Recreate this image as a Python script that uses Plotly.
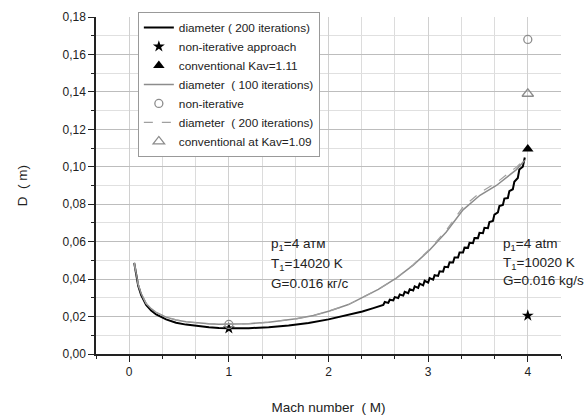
import plotly.graph_objects as go

# ---- data ----
black_m = [0.05, 0.07, 0.09, 0.12, 0.17, 0.22, 0.27, 0.37, 0.47, 0.57, 0.67, 0.80, 0.90, 1.0, 1.2, 1.4, 1.6, 1.8, 2.0, 2.2, 2.34, 2.45, 2.50,
           2.55, 2.565, 2.60, 2.615, 2.65, 2.665, 2.70, 2.715, 2.75, 2.765, 2.80, 2.815, 2.85, 2.865, 2.90, 2.915, 2.95, 2.965,
           3.00, 3.015, 3.05, 3.065, 3.10, 3.115, 3.15, 3.165, 3.20, 3.215, 3.25, 3.265, 3.30, 3.315, 3.35, 3.365, 3.40, 3.415,
           3.45, 3.465, 3.50, 3.515, 3.55, 3.565, 3.60, 3.615, 3.65, 3.665, 3.70, 3.715, 3.75, 3.765, 3.80, 3.815, 3.85, 3.865,
           3.90, 3.915, 3.95, 3.97]
black_d = [0.0487, 0.0420, 0.0365, 0.0315, 0.0262, 0.0232, 0.0212, 0.0185, 0.0167, 0.0157, 0.0150, 0.0143, 0.0139, 0.0137, 0.0138, 0.0143, 0.0152, 0.0166, 0.0185, 0.0208, 0.0227, 0.0245, 0.0255,
           0.0262, 0.0278, 0.0273, 0.0290, 0.0286, 0.0304, 0.0299, 0.0318, 0.0312, 0.0332, 0.0325, 0.0346, 0.0339, 0.0361, 0.0353, 0.0376, 0.0367, 0.0391,
           0.0381, 0.0405, 0.0397, 0.0421, 0.0417, 0.0442, 0.0440, 0.0466, 0.0464, 0.0490, 0.0489, 0.0515, 0.0515, 0.0542, 0.0542, 0.0568, 0.0567, 0.0594,
           0.0592, 0.0620, 0.0619, 0.0647, 0.0645, 0.0674, 0.0672, 0.0705, 0.0711, 0.0745, 0.0756, 0.0790, 0.0796, 0.0830, 0.0833, 0.0870, 0.0880, 0.0920,
           0.0940, 0.0985, 0.1000, 0.1050]

grey_m = [0.05, 0.07, 0.09, 0.12, 0.17, 0.22, 0.27, 0.37, 0.47, 0.57, 0.67, 0.80, 0.90, 1.0, 1.2, 1.4, 1.675, 1.85, 2.01, 2.2, 2.345,
          2.5, 2.68, 2.85, 3.015, 3.18, 3.35, 3.52, 3.685, 3.886, 3.97]
grey_d = [0.0487, 0.0425, 0.0372, 0.0322, 0.0270, 0.0242, 0.0222, 0.0197, 0.0182, 0.0172, 0.0166, 0.0161, 0.0159, 0.0159, 0.0162, 0.0170, 0.0188, 0.0206, 0.0230, 0.0264, 0.0302,
          0.0345, 0.0405, 0.0475, 0.0555, 0.0650, 0.0770, 0.0848, 0.0900, 0.0985, 0.1035]

dash_m = [0.05, 0.07, 0.09, 0.12, 0.17, 0.22, 0.27, 0.37, 0.47, 0.57, 0.67, 0.80, 0.90, 1.0, 1.2, 1.4, 1.675, 1.85, 2.01, 2.2, 2.345,
          2.5, 2.68, 2.85, 3.015, 3.18, 3.35, 3.52, 3.685, 3.886, 3.97]
dash_d = [0.0487, 0.0425, 0.0372, 0.0322, 0.0270, 0.0242, 0.0222, 0.0197, 0.0182, 0.0172, 0.0166, 0.0161, 0.0159, 0.0159, 0.0162, 0.0170, 0.0188, 0.0206, 0.0230, 0.0264, 0.0302,
          0.0345, 0.0405, 0.0477, 0.0560, 0.0660, 0.0785, 0.0862, 0.0915, 0.0998, 0.1040]

star_m = [1.0, 4.0]
star_d = [0.0137, 0.0205]
tri_m = [4.0]
tri_d = [0.1095]
circ_m = [1.0, 4.0]
circ_d = [0.0158, 0.168]
otri_m = [4.0]
otri_d = [0.139]

font = "Liberation Sans, Arial, sans-serif"

fig = go.Figure()
fig.add_trace(go.Scatter(x=black_m, y=black_d, mode="lines", name="diameter ( 200 iterations)",
                         line=dict(color="black", width=2)))
fig.add_trace(go.Scatter(x=star_m, y=star_d, mode="markers", name="non-iterative approach",
                         marker=dict(symbol="star", size=9, color="black")))
fig.add_trace(go.Scatter(x=tri_m, y=tri_d, mode="markers", name="conventional Kav=1.11",
                         marker=dict(symbol="triangle-up", size=10, color="black")))
fig.add_trace(go.Scatter(x=grey_m, y=grey_d, mode="lines", name="diameter  ( 100 iterations)",
                         line=dict(color="#8c8c8c", width=1.5)))
fig.add_trace(go.Scatter(x=circ_m, y=circ_d, mode="markers", name="non-iterative",
                         marker=dict(symbol="circle-open", size=8, color="#8c8c8c", line=dict(width=1.3))))
fig.add_trace(go.Scatter(x=dash_m, y=dash_d, mode="lines", name="diameter  ( 200 iterations)",
                         line=dict(color="#a0a0a0", width=1.2, dash="dash")))
fig.add_trace(go.Scatter(x=otri_m, y=otri_d, mode="markers", name="conventional at Kav=1.09",
                         marker=dict(symbol="triangle-up-open", size=10, color="#8c8c8c", line=dict(width=1.3))))

ann_style = dict(showarrow=False, xanchor="left", yanchor="middle", font=dict(family=font, size=13.5, color="#222"))
fig.add_annotation(x=1.40, y=0.0586, text="p<sub>1</sub>=4 атм", **ann_style)
fig.add_annotation(x=1.40, y=0.0480, text="T<sub>1</sub>=14020 K", **ann_style)
fig.add_annotation(x=1.40, y=0.0375, text="G=0.016 кг/с", **ann_style)
fig.add_annotation(x=3.735, y=0.0586, text="p<sub>1</sub>=4 atm", **ann_style)
fig.add_annotation(x=3.735, y=0.0485, text="T<sub>1</sub>=10020 K", **ann_style)
fig.add_annotation(x=3.735, y=0.0390, text="G=0.016 kg/s", **ann_style)

fig.update_layout(
    width=585, height=419,
    margin=dict(l=96, r=24, t=13, b=65),
    paper_bgcolor="white", plot_bgcolor="white",
    separators=", ",
    font=dict(family=font, size=12, color="#222"),
    showlegend=True,
    legend=dict(x=0.09, y=1.015, xanchor="left", yanchor="top",
                bgcolor="white", bordercolor="#999", borderwidth=1,
                font=dict(family=font, size=11.8, color="#222"),
                tracegroupgap=0, itemwidth=30),
    xaxis=dict(range=[-1/3, 13/3], tick0=0, dtick=1, ticks="outside", ticklen=6,
               showline=True, linecolor="#222", linewidth=1.5, tickcolor="#222",
               showgrid=True, gridcolor="#d0d0d0", gridwidth=1, zeroline=False, automargin=False,
               minor=dict(dtick=1/3, tick0=0, ticks="outside", ticklen=3, tickcolor="#222",
                          showgrid=True, gridcolor="#dcdcdc", gridwidth=1),
               title=dict(text="Mach number  ( M)", font=dict(size=13.5), standoff=24),
               tickfont=dict(size=12)),
    yaxis=dict(range=[0, 0.18], tick0=0, dtick=0.02, tickformat=".2f", ticks="outside", ticklen=6,
               showline=True, linecolor="#222", linewidth=1.5, tickcolor="#222",
               showgrid=True, gridcolor="#bdbdbd", gridwidth=1, zeroline=False, automargin=False,
               minor=dict(dtick=0.01, ticks="outside", ticklen=3, tickcolor="#222",
                          showgrid=True, gridcolor="#e0e0e0", gridwidth=1),
               title=dict(text="D  ( m)", font=dict(size=13.5), standoff=32),
               tickfont=dict(size=12)),
)

fig.write_html("out.html")
